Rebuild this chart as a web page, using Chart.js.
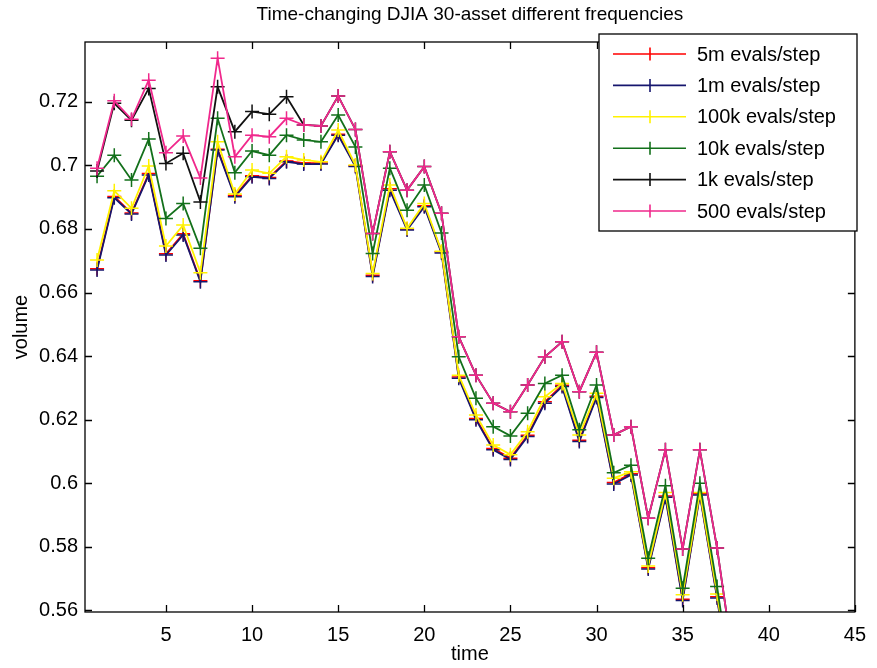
<!DOCTYPE html>
<html>
<head>
<meta charset="utf-8">
<title>DJIA 30-asset volume</title>
<script src="https://cdn.jsdelivr.net/npm/chart.js@4.4.1/dist/chart.umd.min.js"></script>
<style>
  html, body { margin: 0; padding: 0; background: #fff; }
  #wrap { width: 877px; height: 668px; }
</style>
</head>
<body>
<div id="wrap"><canvas id="volumeChart" width="877" height="668"></canvas></div>
<script>
// --- Data ---
const timeSteps = [1, 2, 3, 4, 5, 6, 7, 8, 9, 10, 11, 12, 13, 14, 15, 16, 17, 18, 19,
  20, 21, 22, 23, 24, 25, 26, 27, 28, 29, 30, 31, 32, 33, 34, 35, 36, 37, 38];

const seriesLabels = ['5m evals/step', '1m evals/step', '100k evals/step',
  '10k evals/step', '1k evals/step', '500 evals/step'];

const vol5m = [0.6675, 0.6902, 0.6850, 0.6974, 0.6722, 0.6785, 0.6637, 0.7051, 0.6905, 0.6967,
  0.6962, 0.7014, 0.7007, 0.7007, 0.7098, 0.6999, 0.6654, 0.6926, 0.6800, 0.6873,
  0.6728, 0.6334, 0.6204, 0.6109, 0.6079, 0.6151, 0.6256, 0.6308, 0.6135, 0.6274,
  0.6002, 0.6030, 0.5734, 0.5960, 0.5635, 0.5967, 0.5643, 0.5280];

const vol1m = [0.6671, 0.6898, 0.6847, 0.6970, 0.6718, 0.6781, 0.6634, 0.7048, 0.6901, 0.6964,
  0.6959, 0.7011, 0.7004, 0.7004, 0.7095, 0.6996, 0.6650, 0.6922, 0.6797, 0.6870,
  0.6724, 0.6330, 0.6200, 0.6105, 0.6075, 0.6147, 0.6252, 0.6304, 0.6131, 0.6270,
  0.5998, 0.6026, 0.5730, 0.5956, 0.5631, 0.5963, 0.5639, 0.5270];

const vol100k = [0.6702, 0.6920, 0.6865, 0.6998, 0.6746, 0.6812, 0.6662, 0.7074, 0.6910, 0.6985,
  0.6975, 0.7027, 0.7017, 0.7011, 0.7111, 0.7001, 0.6660, 0.6938, 0.6802, 0.6880,
  0.6730, 0.6340, 0.6215, 0.6120, 0.6090, 0.6162, 0.6272, 0.6314, 0.6152, 0.6283,
  0.6016, 0.6036, 0.5740, 0.5971, 0.5649, 0.5971, 0.5652, 0.5290];

const vol10k = [0.6966, 0.7032, 0.6954, 0.7083, 0.6833, 0.6880, 0.6739, 0.7148, 0.6977, 0.7045,
  0.7032, 0.7095, 0.7080, 0.7074, 0.7158, 0.7058, 0.6723, 0.6991, 0.6859, 0.6938,
  0.6787, 0.6398, 0.6267, 0.6178, 0.6149, 0.6220, 0.6314, 0.6340, 0.6168, 0.6309,
  0.6033, 0.6057, 0.5764, 0.5992, 0.5670, 0.6000, 0.5675, 0.5310];

const vol1k = [0.6982, 0.7195, 0.7142, 0.7242, 0.7006, 0.7038, 0.6885, 0.7247, 0.7106, 0.7169,
  0.7161, 0.7216, 0.7127, 0.7124, 0.7218, 0.7113, 0.6786, 0.7043, 0.6922, 0.6996,
  0.6849, 0.6461, 0.6340, 0.6252, 0.6225, 0.6309, 0.6398, 0.6445, 0.6288, 0.6412,
  0.6152, 0.6178, 0.5890, 0.6105, 0.5793, 0.6105, 0.5796, 0.5420];

const vol500 = [0.6991, 0.7203, 0.7145, 0.7268, 0.7040, 0.7092, 0.6960, 0.7337, 0.7027, 0.7095,
  0.7090, 0.7148, 0.7127, 0.7124, 0.7218, 0.7113, 0.6786, 0.7043, 0.6922, 0.6996,
  0.6849, 0.6461, 0.6340, 0.6252, 0.6225, 0.6309, 0.6398, 0.6445, 0.6288, 0.6412,
  0.6152, 0.6178, 0.5890, 0.6105, 0.5793, 0.6105, 0.5796, 0.5420];

const xTicks = [5, 10, 15, 20, 25, 30, 35, 40, 45];
const yTicks = [0.56, 0.58, 0.60, 0.62, 0.64, 0.66, 0.68, 0.70, 0.72];

const seriesColors = ['#ff0000', '#16166e', '#fff200', '#13701b', '#111111', '#f0288c'];

const FONT = '"Liberation Sans", Arial, Helvetica, sans-serif';

// --- Axis box with inward ticks on all four sides ---
const boxAxes = {
  id: 'boxAxes',
  afterDatasetsDraw(chart) {
    const { ctx, chartArea: a, scales: { x, y } } = chart;
    const len = 7;
    ctx.save();
    ctx.strokeStyle = '#000';
    ctx.lineWidth = 1.3;
    ctx.strokeRect(a.left, a.top, a.right - a.left, a.bottom - a.top);
    ctx.beginPath();
    xTicks.forEach(v => {
      const px = Math.round(x.getPixelForValue(v)) + 0.5;
      ctx.moveTo(px, a.bottom); ctx.lineTo(px, a.bottom - len);
      ctx.moveTo(px, a.top); ctx.lineTo(px, a.top + len);
    });
    yTicks.forEach(v => {
      const py = Math.round(y.getPixelForValue(v)) + 0.5;
      ctx.moveTo(a.left, py); ctx.lineTo(a.left + len, py);
      ctx.moveTo(a.right, py); ctx.lineTo(a.right - len, py);
    });
    ctx.stroke();
    ctx.restore();
  }
};

// --- Legend box in the upper right corner of the plot ---
const boxLegend = {
  id: 'boxLegend',
  afterDraw(chart) {
    const { ctx } = chart;
    const bx = 599, by = 34, bw = 258, bh = 197;
    const rowH = 31.4;
    ctx.save();
    ctx.fillStyle = '#fff';
    ctx.fillRect(bx, by, bw, bh);
    ctx.strokeStyle = '#000';
    ctx.lineWidth = 1.3;
    ctx.strokeRect(bx, by, bw, bh);
    ctx.font = '20px ' + FONT;
    ctx.textBaseline = 'middle';
    chart.data.datasets.forEach((ds, i) => {
      const cy = by + 20 + i * rowH;
      ctx.strokeStyle = ds.borderColor;
      ctx.lineWidth = 1.6;
      ctx.beginPath();
      ctx.moveTo(613, cy); ctx.lineTo(686, cy);
      ctx.moveTo(650, cy - 6.5); ctx.lineTo(650, cy + 6.5);
      ctx.stroke();
      ctx.fillStyle = '#000';
      ctx.fillText(ds.label, 697, cy + 1);
    });
    ctx.restore();
  }
};

function makeDataset(label, values, color, order) {
  return {
    label: label,
    data: timeSteps.map((t, i) => ({ x: t, y: values[i] })),
    borderColor: color,
    backgroundColor: color,
    borderWidth: 1.8,
    pointStyle: 'cross',
    pointRadius: 7,
    pointBorderWidth: 1.5,
    pointBorderColor: color,
    tension: 0,
    order: order
  };
}

document.addEventListener('DOMContentLoaded', () => {
  const seriesValues = [vol5m, vol1m, vol100k, vol10k, vol1k, vol500];
  // later series sit on top of earlier ones
  const datasets = seriesValues.map((vals, i) =>
    makeDataset(seriesLabels[i], vals, seriesColors[i], seriesValues.length - i));

  const ctx = document.getElementById('volumeChart').getContext('2d');
  new Chart(ctx, {
    type: 'line',
    data: { datasets: datasets },
    plugins: [boxAxes, boxLegend],
    options: {
      responsive: false,
      animation: false,
      events: [],
      layout: { padding: { top: 0, right: 11, left: 0, bottom: 0 } },
      plugins: {
        legend: { display: false },
        tooltip: { enabled: false },
        title: {
          display: true,
          fullSize: false,
          text: 'Time-changing DJIA 30-asset different frequencies',
          color: '#000',
          font: { family: FONT, size: 19, weight: 'normal', lineHeight: 1.2 },
          padding: { top: 3, bottom: 16.2 }
        }
      },
      scales: {
        x: {
          type: 'linear',
          min: 0.3,
          max: 45,
          afterBuildTicks: s => { s.ticks = xTicks.map(v => ({ value: v })); },
          afterFit: s => { s.height = 56; },
          grid: { display: false, drawTicks: false },
          border: { display: false },
          ticks: {
            color: '#000',
            padding: 11,
            font: { family: FONT, size: 20 },
            maxRotation: 0
          },
          title: {
            display: true,
            text: 'time',
            color: '#000',
            font: { family: FONT, size: 20 },
            padding: { top: 0, bottom: 2 }
          }
        },
        y: {
          min: 0.5595,
          max: 0.7388,
          afterBuildTicks: s => { s.ticks = yTicks.map(v => ({ value: v })); },
          afterFit: s => { s.width = 85; },
          grid: { display: false, drawTicks: false },
          border: { display: false },
          ticks: {
            color: '#000',
            padding: 7,
            font: { family: FONT, size: 20 },
            callback: v => String(+v.toFixed(2))
          },
          title: {
            display: true,
            text: 'volume',
            color: '#000',
            font: { family: FONT, size: 20 },
            padding: { top: 9, bottom: 0 }
          }
        }
      }
    }
  });
});
</script>
</body>
</html>
